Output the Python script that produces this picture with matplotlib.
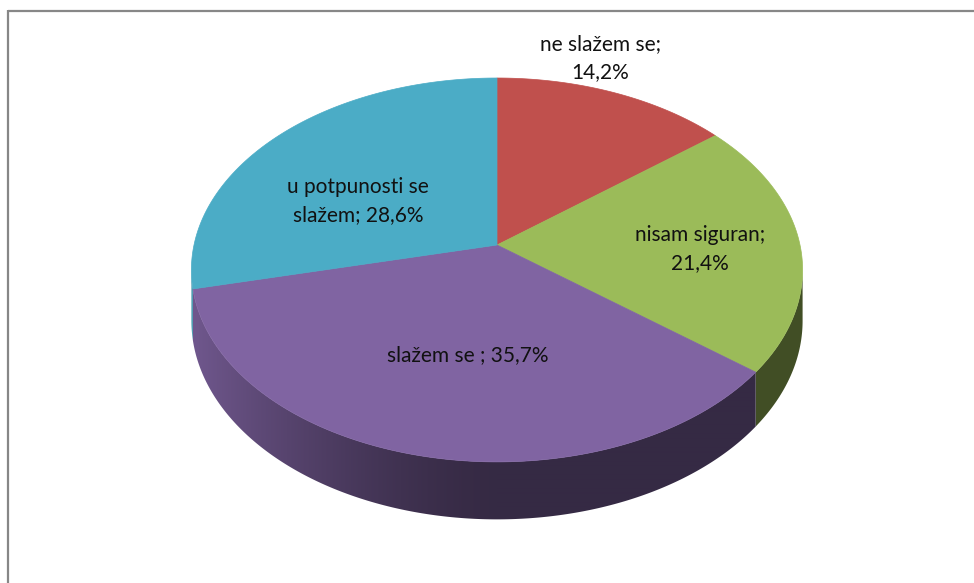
import numpy as np
import matplotlib.pyplot as plt
from matplotlib.patches import Polygon

# answers and their shares (percent)
labels = ['ne slažem se', 'nisam siguran', 'slažem se ', 'u potpunosti se slažem']
values = [14.2, 21.4, 35.7, 28.6]
colors = ['#c0504d', '#9bbb59', '#8064a2', '#4bacc6']

# where the data labels sit and how they wrap
label_xy = [(600, 58), (700, 249), (468, 355), (358, 201)]
label_fmt = ['{}\n{}', '{}\n{}', '{} {}', 'u potpunosti se\nslažem; {1}']

# pie geometry in pixels (simple perspective)
CX, CY = 497, 245
A, B = 303, 188.7
P = 0.13
H = 50
W, HGT = 974, 583


def proj(t, drop=0.0):
    u = np.sin(t)
    v = -np.cos(t)
    d = 1 - P * v
    return CX + A * u / d, CY + (B * v + drop) / d


def rgb(hexcol):
    return np.array([int(hexcol[i:i + 2], 16) for i in (1, 3, 5)]) / 255.0


fig = plt.figure(figsize=(9.74, 5.83), dpi=100)
ax = fig.add_axes([0, 0, 1, 1])
ax.axis('off')

# chart border (only top and left show)
ax.plot([8, W], [10.5, 10.5], color='#878787', lw=1.6, solid_capstyle='butt')
ax.plot([8, 8], [10, HGT], color='#878787', lw=1.6, solid_capstyle='butt')

total = sum(values)
bounds = np.concatenate([[0], np.cumsum(values) / total]) * 2 * np.pi

# visible part of the side wall lies between the two silhouette angles
t_lo = np.arccos(-P)
t_hi = 2 * np.pi - t_lo

# horizontal light falloff across the wall
xs = np.arange(W) + 0.5
u = np.clip((xs - CX) / A, -1, 1)
fall = 0.42 + 0.45 * np.clip(-u, 0, None) ** 1.5

for i, col in enumerate(colors):
    t0 = max(bounds[i], t_lo)
    t1 = min(bounds[i + 1], t_hi)
    if t1 <= t0:
        continue
    ts = np.linspace(t0, t1, 300)
    xt, yt = proj(ts)
    xb, yb = proj(ts[::-1], H)
    side = Polygon(list(zip(xt, yt)) + list(zip(xb, yb)), closed=True,
                   facecolor='none', edgecolor='none')
    ax.add_patch(side)
    img = np.clip(rgb(col)[None, None, :] * fall[None, :, None], 0, 1)
    img = np.repeat(img, 2, axis=0)
    im = ax.imshow(img, extent=[0, W, HGT, 0], aspect='auto',
                   interpolation='bilinear', zorder=1)
    im.set_clip_path(side)

# top faces
for i, col in enumerate(colors):
    ts = np.linspace(bounds[i], bounds[i + 1], 200)
    x, y = proj(ts)
    pts = [(CX, CY)] + list(zip(x, y))
    ax.add_patch(Polygon(pts, closed=True, facecolor=col, edgecolor=col,
                         lw=0.5, zorder=2))

# data labels
for i in range(len(values)):
    pct = f'{values[i]:.1f}%'.replace('.', ',')
    txt = label_fmt[i].format(labels[i] + ';', pct)
    ax.text(label_xy[i][0], label_xy[i][1], txt, ha='center', va='center',
            fontsize=15, family='Lato', color='#111111', linespacing=1.5,
            zorder=3)

ax.set_xlim(0, W)
ax.set_ylim(HGT, 0)
fig.savefig('out.png', dpi=100)
